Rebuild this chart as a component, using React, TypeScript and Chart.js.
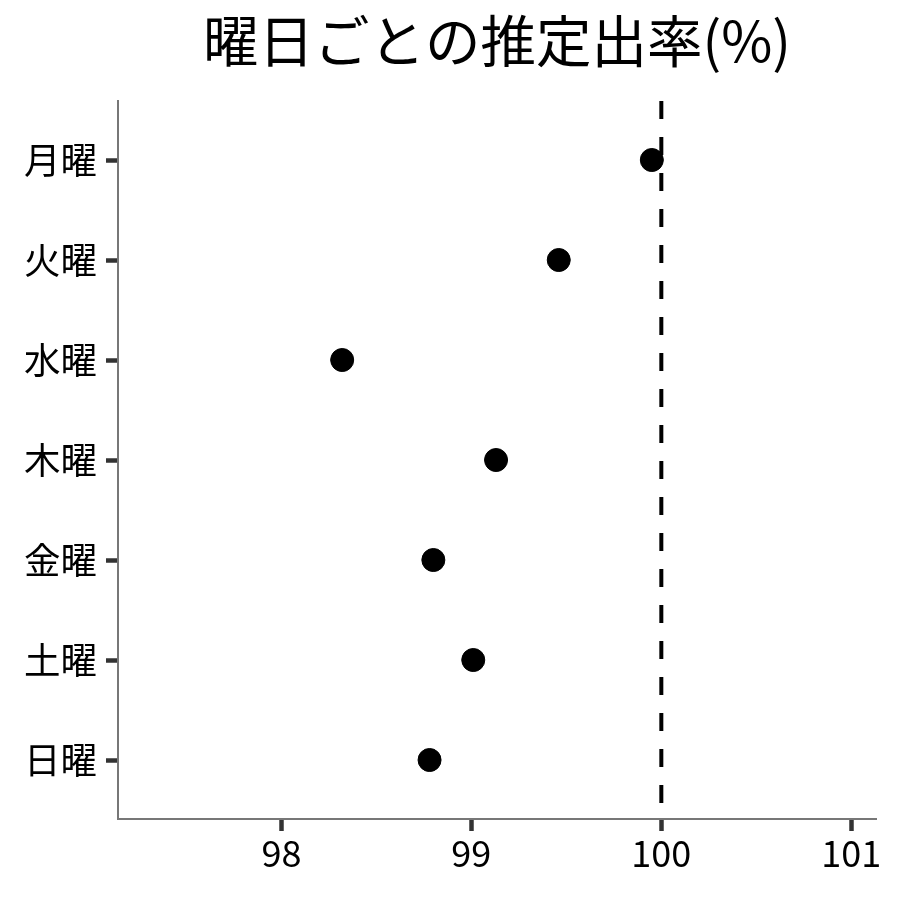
import React, { useEffect, useRef } from "react";
import { Chart, registerables } from "chart.js";

Chart.register(...registerables);

const days = ["月曜", "火曜", "水曜", "木曜", "金曜", "土曜", "日曜"];
const rates = [99.95, 99.46, 98.32, 99.13, 98.8, 99.01, 98.78];
const xTicks = [98, 99, 100, 101];
const refValue = 100;
const xMin = 97.14;
const xMax = 101.13;
const yMin = -0.59;
const yMax = 6.59;
const titleText = "曜日ごとの推定出率(%)";

const FONT = "'Noto Sans CJK JP', 'Noto Sans', sans-serif";

export default function App() {
  const ref = useRef<HTMLCanvasElement | null>(null);
  useEffect(() => {
    if (!ref.current) return;
    const chart = new Chart(ref.current, {
      type: "scatter",
      data: {
        datasets: [
          {
            type: "line",
            data: [
              { x: refValue, y: yMin },
              { x: refValue, y: yMax },
            ],
            borderColor: "#000",
            borderWidth: 4,
            borderDash: [18, 18],
            pointRadius: 0,
            fill: false,
          } as any,
          {
            type: "scatter",
            data: rates.map((v, i) => ({ x: v, y: i })),
            backgroundColor: "#000",
            borderColor: "#000",
            pointRadius: 11.5,
            pointHoverRadius: 11.5,
          },
        ],
      },
      options: {
        animation: false,
        responsive: false,
        layout: { padding: { left: 0, right: 24, top: 0, bottom: 0 } },
        plugins: {
          legend: { display: false },
          tooltip: { enabled: false },
          title: {
            display: true,
            text: titleText,
            fullSize: false,
            color: "#000",
            font: { family: FONT, size: 55.5, weight: "normal" },
            padding: { top: 8, bottom: 26.4 },
          } as any,
        },
        scales: {
          x: {
            type: "linear",
            min: xMin,
            max: xMax,
            afterBuildTicks: (s: any) => {
              s.ticks = xTicks.map((v) => ({ value: v }));
            },
            afterFit: (s: any) => {
              s.height = 81;
            },
            ticks: {
              color: "#000",
              font: { family: FONT, size: 36 },
              padding: 1,
              maxRotation: 0,
              autoSkip: false,
            },
            grid: {
              drawOnChartArea: false,
              drawTicks: true,
              tickLength: 12,
              tickWidth: 4.5,
              tickColor: "#333",
            },
            border: { display: true, color: "#777", width: 2 },
          },
          y: {
            type: "linear",
            min: yMin,
            max: yMax,
            reverse: true,
            afterBuildTicks: (s: any) => {
              s.ticks = days.map((_, i) => ({ value: i }));
            },
            afterFit: (s: any) => {
              s.width = 118;
            },
            ticks: {
              color: "#000",
              font: { family: FONT, size: 36.5 },
              padding: 9,
              autoSkip: false,
              callback: (v: any) => days[Math.round(Number(v))] ?? "",
            },
            grid: {
              drawOnChartArea: false,
              drawTicks: true,
              tickLength: 12,
              tickWidth: 4.5,
              tickColor: "#333",
            },
            border: { display: true, color: "#777", width: 2 },
          },
        },
      },
    });
    return () => chart.destroy();
  }, []);
  return (
    <div style={{ position: "absolute", left: 0, top: 0, width: 900, height: 900, background: "#fff" }}>
      <canvas ref={ref} width={900} height={900} style={{ display: "block" }} />
    </div>
  );
}
